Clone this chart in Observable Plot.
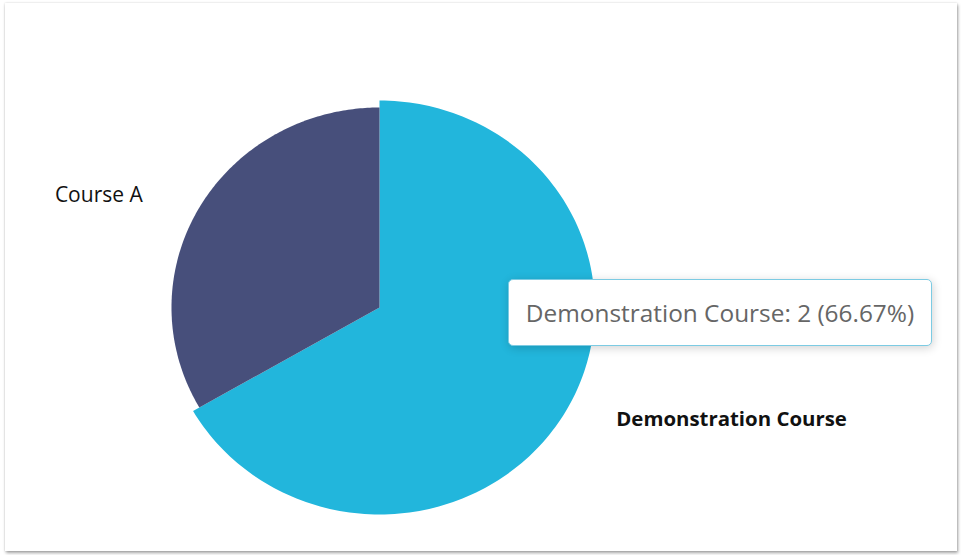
<!DOCTYPE html>
<html>
<head>
<meta charset="utf-8">
<script src="https://cdn.jsdelivr.net/npm/d3@7"></script>
<script src="https://cdn.jsdelivr.net/npm/@observablehq/plot@0.6"></script>
<style>
  html, body { margin: 0; padding: 0; background: #ffffff; }
  body { width: 961px; height: 555px; position: relative; overflow: hidden; font-family: "Open Sans", "Segoe UI", sans-serif; }
  #card { position: absolute; left: 5px; top: 3px; width: 952px; height: 548px; background: #fff;
          box-shadow: 1px 2px 3px rgba(0,0,0,0.35), 0 0 2px rgba(0,0,0,0.15); }
  #chart { position: absolute; left: 0; top: 0; }
  #tooltip { position: absolute; left: 508px; top: 279px; width: 424px; height: 67px; box-sizing: border-box;
             background: #fff; border: 1px solid #7ccbe3; border-radius: 5px;
             box-shadow: 1px 2px 10px rgba(0,0,0,0.18);
             color: #666; font-family: "Open Sans", sans-serif; font-size: 24.4px; line-height: 65px;
             text-align: center; white-space: nowrap; }
</style>
</head>
<body>
<div id="card"></div>
<div id="chart"></div>
<div id="tooltip"></div>
<script>
// Data
const categories = ["Demonstration Course", "Course A"];
const values = [2, 1];
const colors = ["#22b6dc", "#474f7b"];
const emphasized = "Demonstration Course";

const total = d3.sum(values);
const slices = [];
let acc = 0;
categories.forEach((name, i) => {
  const a0 = acc / total * 2 * Math.PI;
  acc += values[i];
  const a1 = acc / total * 2 * Math.PI;
  const r = name === emphasized ? 1.035 : 1;
  const pts = [{x: 0, y: 0}];
  const n = 180;
  for (let k = 0; k <= n; k++) {
    const t = a0 + (a1 - a0) * k / n;
    pts.push({x: r * Math.sin(t), y: r * Math.cos(t)});
  }
  pts.push({x: 0, y: 0});
  const mid = (a0 + a1) / 2;
  slices.push({name, value: values[i], color: colors[i], pts, mid,
               pct: values[i] / total * 100,
               lx: 1.12 * Math.sin(mid), ly: 1.12 * Math.cos(mid)});
});

const marks = [];
slices.forEach(s => {
  marks.push(Plot.line(s.pts, {x: "x", y: "y", fill: s.color, stroke: "none", curve: "linear"}));
});
slices.forEach(s => {
  const right = s.lx >= 0;
  const isEm = s.name === emphasized;
  marks.push(Plot.text([s], {
    x: "lx", y: "ly", text: "name",
    textAnchor: right ? "start" : "end",
    dx: right ? 35 : -35,
    fontSize: isEm ? 20.4 : 21,
    fontWeight: isEm ? "bold" : "normal",
    fill: "#111",
    fontFamily: "'Open Sans', sans-serif"
  }));
});

const cx = 379, cy = 307, rh = 208, rv = 200;
const chart = Plot.plot({
  width: 961, height: 555,
  margin: 0,
  x: {domain: [-1, 1], range: [cx - rh, cx + rh], axis: null},
  y: {domain: [-1, 1], range: [cy + rv, cy - rv], axis: null},
  style: {background: "transparent", overflow: "visible"},
  marks
});
document.getElementById("chart").appendChild(chart);

const em = slices.find(s => s.name === emphasized);
document.getElementById("tooltip").textContent = `${em.name}: ${em.value} (${em.pct.toFixed(2)}%)`;
</script>
</body>
</html>
